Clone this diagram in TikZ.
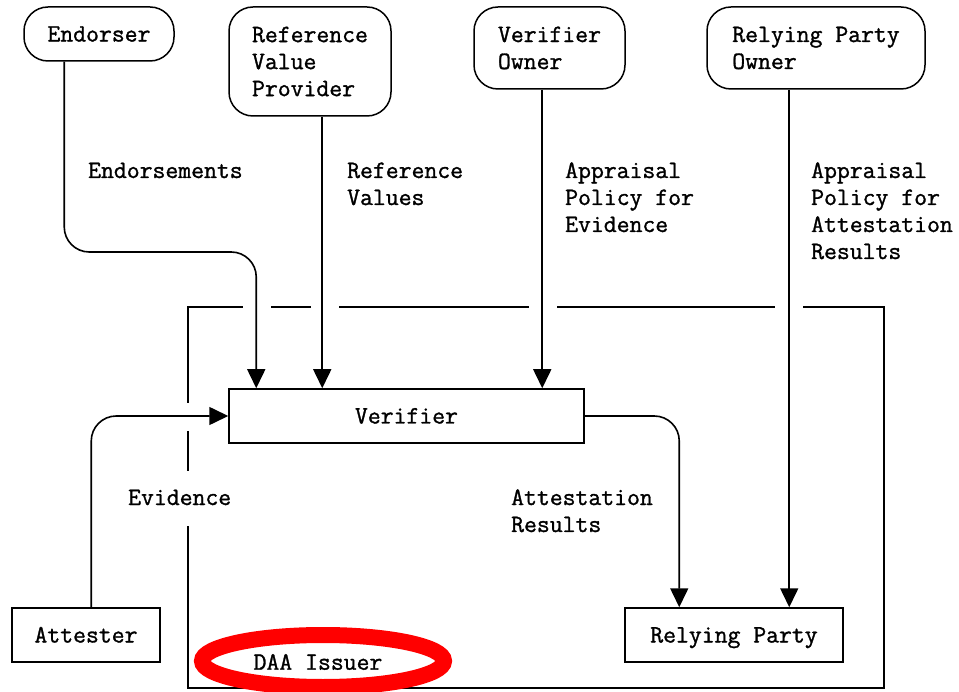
\documentclass[tikz,border=0pt]{standalone}
\usepackage{fontspec}
\setmonofont{Latin Modern Mono}[FakeBold=1.2]
\usetikzlibrary{arrows.meta}

\tikzset{
  diag/.style={x=1pt, y=-1pt, font=\ttfamily\fontsize{25}{27}\selectfont},
  rolebox/.style={draw, line width=1.5pt, rounded corners=24pt, align=left, inner sep=0pt},
  entbox/.style={draw, line width=1.5pt, inner sep=0pt, minimum height=54pt,
                 text height=17pt, text depth=2pt},
  flow/.style={line width=1.6pt, rounded corners=25pt, -{Triangle[width=18pt,length=19pt]}},
  lbl/.style={anchor=base west, align=left, inner sep=0pt},
  frame/.style={line width=1.5pt},
  redring/.style={draw=red, line width=16pt}
}

\begin{document}
\begin{tikzpicture}[diag]
\useasboundingbox (0,0) rectangle (959,692);

% roles at the top
\node[rolebox, minimum width=150pt, minimum height=54pt] (endorser) at (99,34) {Endorser};
\node[rolebox, minimum width=162pt, minimum height=109pt] (rvp) at (310,61.5) {Reference\\Value\\Provider};
\node[rolebox, minimum width=151pt, minimum height=82pt] (vowner) at (549.5,48) {Verifier\\Owner};
\node[rolebox, minimum width=218pt, minimum height=82pt] (rpowner) at (816,48) {Relying Party\\Owner};

% entities
\node[entbox, minimum width=355pt] (verifier) at (406.5,416) {Verifier};
\node[entbox, minimum width=148pt] (attester) at (86,635) {Attester};
\node[entbox, minimum width=218pt] (rp) at (734,635) {Relying Party};

% broken outer frame
\draw[frame] (188,403) -- (188,307) -- (243,307);
\draw[frame] (271,307) -- (311,307);
\draw[frame] (339,307) -- (529,307);
\draw[frame] (557,307) -- (775,307);
\draw[frame] (803,307) -- (884,307) -- (884,688) -- (188,688) -- (188,526);
\draw[frame] (188,431) -- (188,471);

% flows
\draw[flow] ([xshift=41pt]endorser.south west) |- (150,252) -| ([xshift=28pt]verifier.north west);
\draw[flow] ([xshift=94pt]rvp.south west) -- ([xshift=94pt]verifier.north west);
\draw[flow] ([xshift=69pt]vowner.south west) -- ([xshift=314pt]verifier.north west);
\draw[flow] ([xshift=83pt]rpowner.south west) -- ([xshift=165pt]rp.north west);
\draw[flow] (verifier.east) -| ([xshift=55pt]rp.north west);
\draw[flow] ([xshift=80pt]attester.north west) |- (verifier.west);

% flow labels (anchored at the baseline of their last line)
\node[lbl] (l-end) at (88,178) {Endorsements};
\node[lbl] (l-ref) at (347,205) {Reference\\Values};
\node[lbl] (l-ape) at (565,232) {Appraisal\\Policy for\\Evidence};
\node[lbl] (l-apr) at (811,259) {Appraisal\\Policy for\\Attestation\\Results};
\node[lbl] (l-ev) at (128,505) {Evidence};
\node[lbl] (l-ar) at (511,532) {Attestation\\Results};

% DAA Issuer, circled
\node (daa) at (318,662) {DAA Issuer};
\draw[redring] (323,661) ellipse [x radius=121pt, y radius=26pt];
\end{tikzpicture}
\end{document}
